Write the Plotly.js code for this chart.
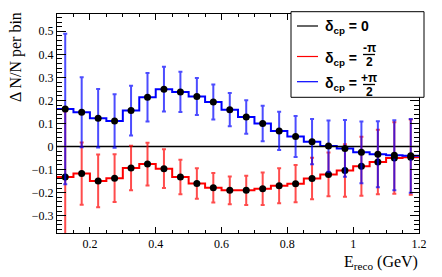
<!DOCTYPE html>
<html>
<head>
<meta charset="utf-8">
<script src="https://cdn.plot.ly/plotly-3.0.1.min.js"></script>
<style>html,body{margin:0;padding:0;background:#fff;}#chart{width:442px;height:277px;}</style>
</head>
<body>
<div id="chart"></div>
<script>
// Bin centers (E_reco, GeV), bin width 0.05
const binCenters = [0.125,0.175,0.225,0.275,0.325,0.375,0.425,0.475,0.525,0.575,0.625,0.675,0.725,0.775,0.825,0.875,0.925,0.975,1.025,1.075,1.125,1.175];
const binWidth = 0.05;
// delta_cp = 0
const zeroVals = [0,0,0,0,0,0,0,0,0,0,0,0,0,0,0,0,0,0,0,0,0,0];
// delta_cp = -pi/2
const redVals = [-0.132,-0.117,-0.149,-0.137,-0.093,-0.076,-0.096,-0.132,-0.160,-0.179,-0.190,-0.190,-0.183,-0.170,-0.161,-0.139,-0.121,-0.104,-0.085,-0.067,-0.050,-0.046];
const redErrs = [0.284,0.135,0.114,0.104,0.097,0.093,0.084,0.075,0.066,0.064,0.060,0.063,0.070,0.076,0.081,0.090,0.095,0.114,0.128,0.140,0.155,0.163];
// delta_cp = +pi/2
const blueVals = [0.163,0.149,0.123,0.111,0.156,0.214,0.249,0.237,0.217,0.193,0.160,0.128,0.100,0.068,0.044,0.021,0.002,-0.008,-0.025,-0.033,-0.038,-0.040];
const blueErrs = [0.326,0.152,0.127,0.116,0.108,0.105,0.097,0.087,0.080,0.076,0.072,0.073,0.077,0.083,0.089,0.098,0.111,0.123,0.134,0.143,0.152,0.160];

const edges = binCenters.map(c => c - binWidth/2).concat([binCenters[binCenters.length-1] + binWidth/2]);
function stepY(v){ return v.concat([v[v.length-1]]); }

const traces = [
  {x: edges, y: stepY(redVals), mode:'lines', line:{shape:'hv', color:'#ff0000', width:2}, hoverinfo:'skip'},
  {x: edges, y: stepY(blueVals), mode:'lines', line:{shape:'hv', color:'#0000ff', width:2}, hoverinfo:'skip'},
  {x: edges, y: stepY(zeroVals), mode:'lines', line:{shape:'hv', color:'#000000', width:1.5}, hoverinfo:'skip'},
  {x: binCenters, y: redVals, mode:'markers', marker:{color:'#000', size:7},
   error_y:{type:'data', array: redErrs, visible:true, color:'rgba(255,0,0,0.7)', thickness:2, width:2}},
  {x: binCenters, y: blueVals, mode:'markers', marker:{color:'#000', size:7},
   error_y:{type:'data', array: blueErrs, visible:true, color:'rgba(0,0,255,0.7)', thickness:2, width:2}}
];

// plot-area geometry (pixels) for placing the hand-drawn legend
const L = 57, R = 23, T = 14, B = 44, W = 442, H = 277;
const PW = W - L - R, PH = H - T - B;
const X = px => (px - L) / PW;
const Y = py => (H - B - py) / PH;

const SERIF = 'Liberation Serif';
const SANS = 'Liberation Sans';
const lf = {family:SANS, size:14, color:'#000'};
const ff = {family:SANS, size:12, color:'#000'};
function ann(text, x, y, font, xanchor){
  return {text:text, x:X(x), y:Y(y), xref:'paper', yref:'paper', showarrow:false, xanchor:xanchor||'left', yanchor:'middle', font:font};
}

const shapes = [
  {type:'rect', xref:'paper', yref:'paper', x0:X(291), x1:X(424), y0:Y(11.7), y1:Y(97.3), line:{color:'#000', width:1}, fillcolor:'#fff', layer:'above'},
  {type:'line', xref:'paper', yref:'paper', x0:X(297), x1:X(318), y0:Y(26), y1:Y(26), line:{color:'#000', width:1.2}, layer:'above'},
  {type:'line', xref:'paper', yref:'paper', x0:X(297), x1:X(318), y0:Y(56.5), y1:Y(56.5), line:{color:'#ff0000', width:1.2}, layer:'above'},
  {type:'line', xref:'paper', yref:'paper', x0:X(297), x1:X(318), y0:Y(81.7), y1:Y(81.7), line:{color:'#0000ff', width:1.2}, layer:'above'},
  {type:'line', xref:'paper', yref:'paper', x0:X(363), x1:X(375), y0:Y(54.5), y1:Y(54.5), line:{color:'#000', width:1.3}, layer:'above'},
  {type:'line', xref:'paper', yref:'paper', x0:X(363), x1:X(375), y0:Y(84.5), y1:Y(84.5), line:{color:'#000', width:1.3}, layer:'above'}
];

const annotations = [
  ann('<b>δ<sub>cp</sub> = 0</b>', 323, 27, lf),
  ann('<b>δ<sub>cp</sub> =</b>', 323, 59, lf),
  ann('<b>-π</b>', 369, 47.5, ff, 'center'),
  ann('<b>2</b>', 369, 62, ff, 'center'),
  ann('<b>δ<sub>cp</sub> =</b>', 323, 84, lf),
  ann('<b>+π</b>', 369, 77.5, ff, 'center'),
  ann('<b>2</b>', 369, 91.5, ff, 'center'),
  {text:'Δ N/N per bin', textangle:-90, x:X(16), y:Y(57), xref:'paper', yref:'paper', showarrow:false,
   xanchor:'center', yanchor:'middle', font:{family:SERIF, size:16, color:'#000'}},
  {text:'E<sub>reco</sub> (GeV)', x:X(419.5), y:Y(262), xref:'paper', yref:'paper', showarrow:false,
   xanchor:'right', yanchor:'middle', font:{family:SERIF, size:16, color:'#000'}}
];

const tickFont = {family:SERIF, size:12, color:'#000'};
const layout = {
  width: W, height: H,
  font:{family:SERIF},
  margin:{l:L, r:R, t:T, b:B, pad:0},
  paper_bgcolor:'#fff', plot_bgcolor:'#fff',
  showlegend:false,
  xaxis:{range:[0.1,1.2], tick0:0, dtick:0.2, ticks:'inside', ticklen:6, tickwidth:1, tickcolor:'#000',
    showline:true, linecolor:'#000', linewidth:1, mirror:'allticks', showgrid:false, zeroline:false,
    tickfont:tickFont, minor:{dtick:0.05, ticks:'inside', ticklen:3, tickcolor:'#000', showgrid:false}},
  yaxis:{range:[-0.375,0.575], tick0:0, dtick:0.1, ticks:'inside', ticklen:9, tickwidth:1, tickcolor:'#000',
    showline:true, linecolor:'#000', linewidth:1, mirror:'allticks', showgrid:false, zeroline:false,
    tickfont:tickFont, minor:{dtick:0.02, ticks:'inside', ticklen:5, tickcolor:'#000', showgrid:false}},
  shapes: shapes,
  annotations: annotations
};

Plotly.newPlot('chart', traces, layout, {staticPlot:true, displayModeBar:false});
</script>
</body>
</html>
